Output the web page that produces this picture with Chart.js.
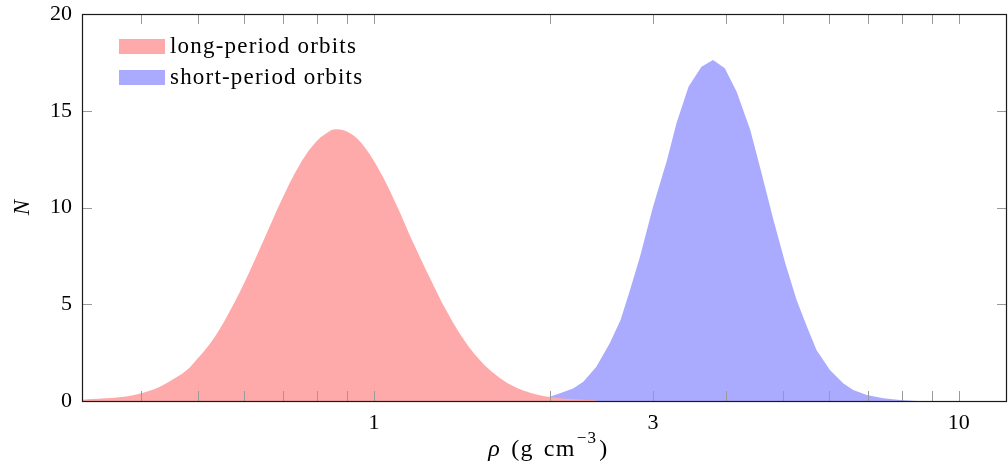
<!DOCTYPE html>
<html>
<head>
<meta charset="utf-8">
<script src="https://cdn.jsdelivr.net/npm/chart.js@4/dist/chart.umd.min.js"></script>
<style>
  html, body { margin: 0; padding: 0; background: #fff; }
  #c { display: block; }
</style>
</head>
<body>
<canvas id="c" width="1008" height="475"></canvas>
<script>
// Density distributions (rho in g cm^-3, N = counts)
const longRho = [0.30, 0.317, 0.40, 0.469, 0.50, 0.535, 0.572, 0.611, 0.652, 0.696, 0.743, 0.794, 0.837, 0.863,
                 0.910, 0.959, 1.024, 1.093, 1.167, 1.247, 1.331, 1.421, 1.518, 1.621, 1.730, 1.848, 2.0, 2.2, 2.4];
const longN   = [0.03, 0.06, 0.40, 1.40, 2.22, 3.35, 4.87, 6.62, 8.51, 10.42, 12.11, 13.36, 13.92, 14.04,
                 13.84, 13.2, 11.85, 10.12, 8.18, 6.35, 4.65, 3.22, 2.11, 1.32, 0.77, 0.43, 0.21, 0.09, 0.04];

const shortRho = [1.80, 1.95, 2.08, 2.19, 2.28, 2.40, 2.53, 2.64, 2.74, 2.85, 3.00, 3.17, 3.29, 3.45, 3.63, 3.80,
                  3.98, 4.17, 4.40, 4.60, 4.82, 5.05, 5.28, 5.50, 5.71, 6.02, 6.35, 6.60, 6.96, 7.43, 7.93, 8.5];
const shortN   = [0.0, 0.12, 0.40, 0.65, 1.0, 1.77, 2.98, 4.19, 5.74, 7.46, 10.04, 12.45, 14.35, 16.24, 17.28, 17.62,
                  17.19, 15.98, 14.0, 11.77, 9.35, 7.12, 5.22, 3.84, 2.64, 1.60, 0.91, 0.57, 0.31, 0.14, 0.05, 0.0];

const seriesNames  = ['long-period orbits', 'short-period orbits'];
const seriesColors = ['#ffaaaa', '#aaaaff'];

const xRange       = [0.3167, 12.09];
const xTickValues  = [0.4, 0.5, 0.6, 0.7, 0.8, 0.9, 1, 2, 3, 4, 5, 6, 7, 8, 9, 10];
const xTickLabels  = [1, 3, 10];
const yTickValues  = [0, 5, 10, 15, 20];

const SERIF = '"Liberation Serif", "DejaVu Serif", serif';

const toPoints = (xs, ys) => xs.map((x, i) => ({ x: x, y: ys[i] }));

// Frame, inward tick marks, legend and x-axis title
const decorations = {
  id: 'decorations',
  afterDatasetsDraw(chart) {
    const { ctx, chartArea: a, scales: { x, y } } = chart;
    ctx.save();

    // inward tick marks
    ctx.strokeStyle = '#9a9a9a';
    ctx.lineWidth = 1;
    const tl = 10;
    ctx.beginPath();
    x.ticks.forEach(t => {
      const px = Math.round(x.getPixelForValue(t.value)) + 0.5;
      ctx.moveTo(px, a.bottom); ctx.lineTo(px, a.bottom - tl);
      ctx.moveTo(px, a.top);    ctx.lineTo(px, a.top + tl);
    });
    y.ticks.forEach(t => {
      const py = Math.round(y.getPixelForValue(t.value)) + 0.5;
      ctx.moveTo(a.left, py);  ctx.lineTo(a.left + tl, py);
      ctx.moveTo(a.right, py); ctx.lineTo(a.right - tl, py);
    });
    ctx.stroke();

    // axis frame
    ctx.strokeStyle = '#1a1a1a';
    ctx.lineWidth = 1.2;
    ctx.strokeRect(a.left + 0.5, a.top + 0.5, a.right - a.left - 1, a.bottom - a.top);

    // legend
    const legendRows = [{ top: 39, base: 53 }, { top: 70, base: 84 }];
    ctx.font = '23px ' + SERIF;
    ctx.letterSpacing = '1.2px';
    ctx.textBaseline = 'alphabetic';
    ctx.textAlign = 'left';
    chart.data.datasets.forEach((ds, i) => {
      const r = legendRows[i];
      ctx.fillStyle = ds.backgroundColor;
      ctx.fillRect(119, r.top, 46, 15);
      ctx.fillStyle = '#000';
      ctx.fillText(ds.label, 170, r.base);
    });

    // x-axis title: ρ (g cm⁻³), pieces set one after another
    ctx.letterSpacing = '1.3px';
    const base = 456;
    const parts = [
      { t: 'ρ',  f: 'italic 24px ' + SERIF, dy: 0,   gap: 10 },
      { t: '(g', f: '24px ' + SERIF,        dy: 0,   gap: 10 },
      { t: 'cm', f: '24px ' + SERIF,        dy: 0,   gap: 1 },
      { t: '−3', f: '17px ' + SERIF,        dy: -13, gap: 2 },
      { t: ')',  f: '24px ' + SERIF,        dy: 0,   gap: 0 }
    ];
    let total = 0;
    parts.forEach(p => { ctx.font = p.f; p.w = ctx.measureText(p.t).width; total += p.w + p.gap; });
    let cx = (a.left + a.right) / 2 + 4 - total / 2;
    parts.forEach(p => { ctx.font = p.f; ctx.fillText(p.t, cx, base + p.dy); cx += p.w + p.gap; });

    ctx.restore();
  }
};

new Chart(document.getElementById('c'), {
  type: 'line',
  data: {
    datasets: [
      {
        label: seriesNames[0],
        data: toPoints(longRho, longN),
        backgroundColor: seriesColors[0],
        borderWidth: 0,
        pointRadius: 0,
        fill: 'origin',
        tension: 0.4
      },
      {
        label: seriesNames[1],
        data: toPoints(shortRho, shortN),
        backgroundColor: seriesColors[1],
        borderWidth: 0,
        pointRadius: 0,
        fill: 'origin',
        tension: 0
      }
    ]
  },
  options: {
    responsive: false,
    animation: false,
    devicePixelRatio: 1,
    layout: { padding: { left: 0, right: 1, top: 14, bottom: 0 } },
    plugins: { legend: { display: false }, tooltip: { enabled: false } },
    scales: {
      x: {
        type: 'logarithmic',
        position: 'bottom',
        bounds: 'data',
        min: xRange[0],
        max: xRange[1],
        afterBuildTicks: s => {
          s.ticks = xTickValues.map(v => ({ value: v }));
          s.min = xRange[0];
          s.max = xRange[1];
        },
        afterFit: s => { s.height = 74; s.paddingLeft = 0; s.paddingRight = 0; },
        grid: { display: false, drawTicks: false },
        border: { display: false },
        ticks: {
          autoSkip: false,
          maxRotation: 0,
          padding: 9,
          color: '#000',
          font: { family: SERIF, size: 22 },
          callback: v => (xTickLabels.includes(v) ? String(v) : '')
        }
      },
      y: {
        min: 0,
        max: 20,
        afterBuildTicks: s => { s.ticks = yTickValues.map(v => ({ value: v })); },
        afterFit: s => { s.width = 82; s.paddingTop = 0; s.paddingBottom = 0; },
        grid: { display: false, drawTicks: false },
        border: { display: false },
        ticks: {
          padding: 10,
          color: '#000',
          font: { family: SERIF, size: 22 },
          callback: v => String(v)
        },
        title: {
          display: true,
          text: 'N',
          color: '#000',
          padding: { top: 9, bottom: 0 },
          font: { family: SERIF, size: 23, style: 'italic' }
        }
      }
    }
  },
  plugins: [decorations]
});
</script>
</body>
</html>
